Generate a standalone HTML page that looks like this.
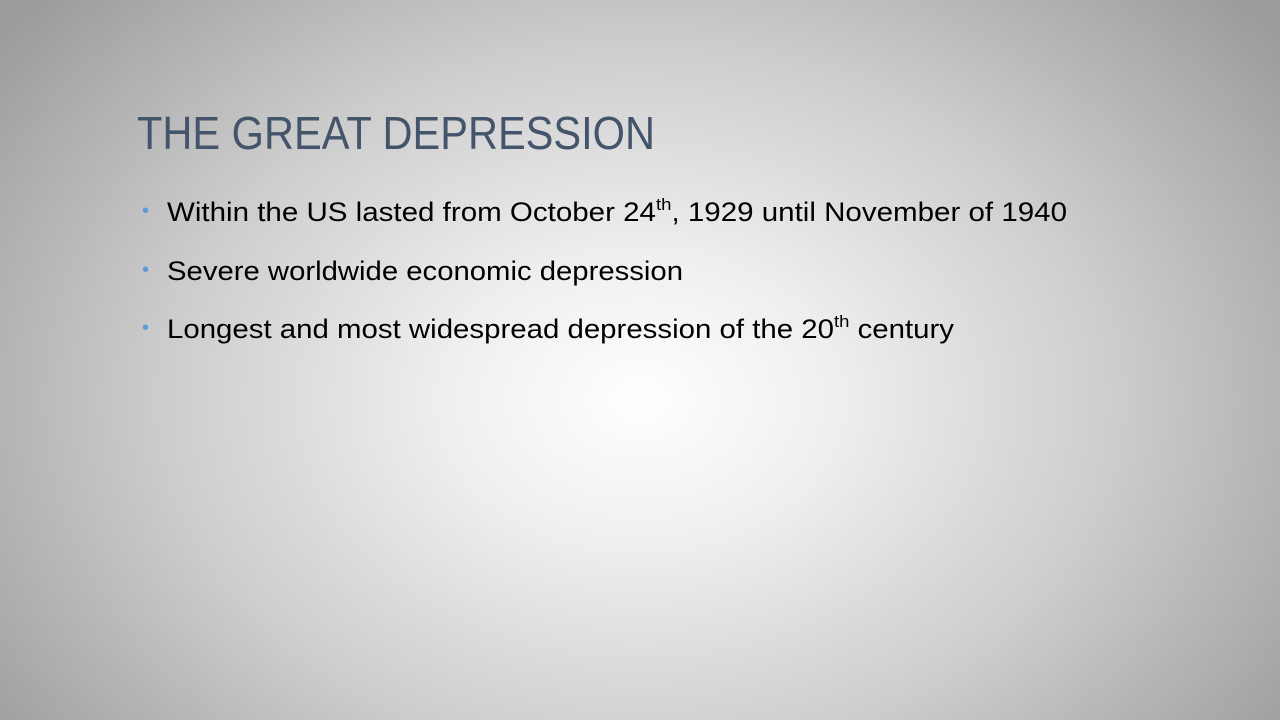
<!DOCTYPE html>
<html>
<head>
<meta charset="utf-8">
<style>
  html,body{margin:0;padding:0;}
  body{width:1280px;height:720px;overflow:hidden;position:relative;
    background:radial-gradient(ellipse 800px 600px at 640px 400px,#ffffff 0%,#eeeeee 25%,#cccccc 60%,#9c9c9c 100%);
    font-family:"Liberation Sans",sans-serif;}
  .title{position:absolute;left:137px;top:106px;font-size:46px;color:#44546a;white-space:nowrap;transform-origin:left top;}
  .bullet{position:absolute;left:142px;font-size:20px;color:#5b9bd5;}
  .line{position:absolute;left:167px;font-size:27px;color:#000;white-space:nowrap;transform-origin:left top;}
  sup{font-size:17px;vertical-align:11px;line-height:0;}
</style>
</head>
<body>
  <div class="title" id="t" data-w="518">THE GREAT DEPRESSION</div>
  <div class="bullet" style="top:200px">•</div>
  <div class="line" style="top:197px" data-w="900">Within the US lasted from October 24<sup>th</sup>, 1929 until November of 1940</div>
  <div class="bullet" style="top:259px">•</div>
  <div class="line" style="top:256px" data-w="516">Severe worldwide economic depression</div>
  <div class="bullet" style="top:317px">•</div>
  <div class="line" style="top:314px" data-w="787">Longest and most widespread depression of the 20<sup>th</sup> century</div>
<script>
document.querySelectorAll('[data-w]').forEach(function(el){
  var w = el.getBoundingClientRect().width;
  var target = parseFloat(el.getAttribute('data-w'));
  if (w > 0) el.style.transform = 'scaleX(' + (target / w) + ')';
});
</script>
</body>
</html>
